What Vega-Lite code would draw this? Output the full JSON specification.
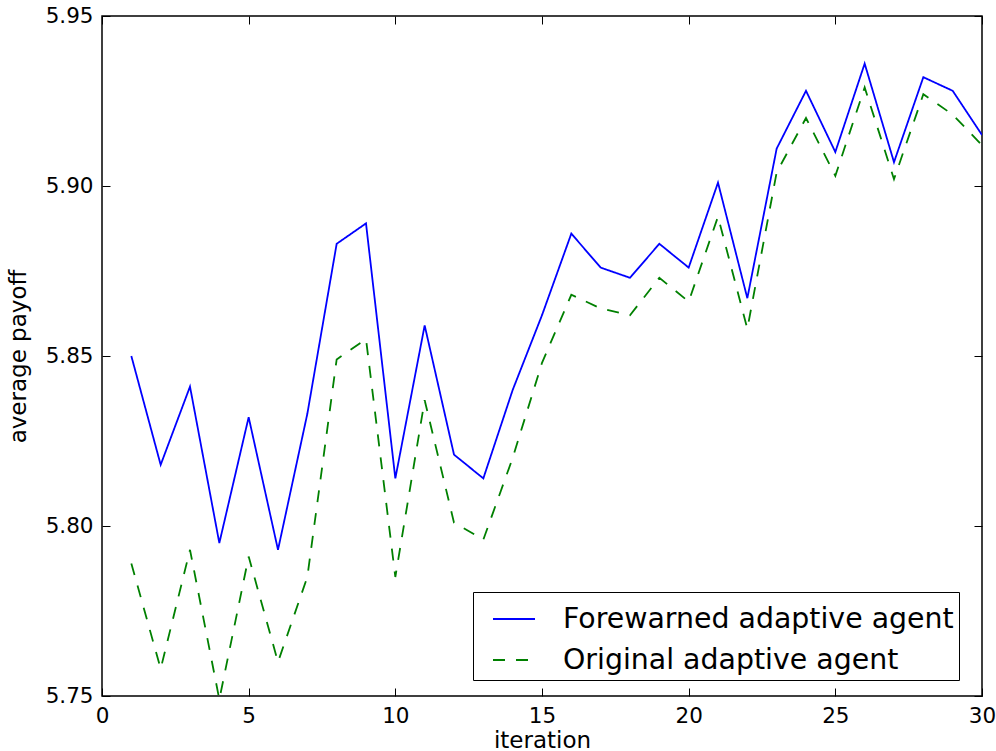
{
  "$schema": "https://vega.github.io/schema/vega-lite/v6.json",
  "width": 880,
  "height": 680,
  "autosize": {"type": "none"},
  "padding": {"left": 102, "top": 16, "right": 14, "bottom": 55},
  "background": "white",
  "config": {
    "view": {"stroke": "black", "strokeWidth": 1.5},
    "font": "DejaVu Sans",
    "legend": {"strokeColor": "black", "fillColor": "white", "cornerRadius": 0},
    "axis": {
      "grid": false,
      "domain": false,
      "tickColor": "black",
      "tickWidth": 1,
      "tickSize": -8,
      "labelFont": "DejaVu Sans",
      "labelFontSize": 21.5,
      "labelColor": "black",
      "labelPadding": 17,
      "titleFont": "DejaVu Sans",
      "titleFontSize": 23,
      "titleFontWeight": "normal",
      "titleColor": "black"
    }
  },
  "data": {
    "values": [
      {"iteration": 1, "series": "Forewarned adaptive agent", "payoff": 5.850},
      {"iteration": 2, "series": "Forewarned adaptive agent", "payoff": 5.818},
      {"iteration": 3, "series": "Forewarned adaptive agent", "payoff": 5.841},
      {"iteration": 4, "series": "Forewarned adaptive agent", "payoff": 5.795},
      {"iteration": 5, "series": "Forewarned adaptive agent", "payoff": 5.832},
      {"iteration": 6, "series": "Forewarned adaptive agent", "payoff": 5.793},
      {"iteration": 7, "series": "Forewarned adaptive agent", "payoff": 5.833},
      {"iteration": 8, "series": "Forewarned adaptive agent", "payoff": 5.883},
      {"iteration": 9, "series": "Forewarned adaptive agent", "payoff": 5.889},
      {"iteration": 10, "series": "Forewarned adaptive agent", "payoff": 5.814},
      {"iteration": 11, "series": "Forewarned adaptive agent", "payoff": 5.859},
      {"iteration": 12, "series": "Forewarned adaptive agent", "payoff": 5.821},
      {"iteration": 13, "series": "Forewarned adaptive agent", "payoff": 5.814},
      {"iteration": 14, "series": "Forewarned adaptive agent", "payoff": 5.840},
      {"iteration": 15, "series": "Forewarned adaptive agent", "payoff": 5.862},
      {"iteration": 16, "series": "Forewarned adaptive agent", "payoff": 5.886},
      {"iteration": 17, "series": "Forewarned adaptive agent", "payoff": 5.876},
      {"iteration": 18, "series": "Forewarned adaptive agent", "payoff": 5.873},
      {"iteration": 19, "series": "Forewarned adaptive agent", "payoff": 5.883},
      {"iteration": 20, "series": "Forewarned adaptive agent", "payoff": 5.876},
      {"iteration": 21, "series": "Forewarned adaptive agent", "payoff": 5.901},
      {"iteration": 22, "series": "Forewarned adaptive agent", "payoff": 5.867},
      {"iteration": 23, "series": "Forewarned adaptive agent", "payoff": 5.911},
      {"iteration": 24, "series": "Forewarned adaptive agent", "payoff": 5.928},
      {"iteration": 25, "series": "Forewarned adaptive agent", "payoff": 5.910},
      {"iteration": 26, "series": "Forewarned adaptive agent", "payoff": 5.936},
      {"iteration": 27, "series": "Forewarned adaptive agent", "payoff": 5.907},
      {"iteration": 28, "series": "Forewarned adaptive agent", "payoff": 5.932},
      {"iteration": 29, "series": "Forewarned adaptive agent", "payoff": 5.928},
      {"iteration": 30, "series": "Forewarned adaptive agent", "payoff": 5.915},
      {"iteration": 1, "series": "Original adaptive agent", "payoff": 5.789},
      {"iteration": 2, "series": "Original adaptive agent", "payoff": 5.758},
      {"iteration": 3, "series": "Original adaptive agent", "payoff": 5.793},
      {"iteration": 4, "series": "Original adaptive agent", "payoff": 5.749},
      {"iteration": 5, "series": "Original adaptive agent", "payoff": 5.791},
      {"iteration": 6, "series": "Original adaptive agent", "payoff": 5.760},
      {"iteration": 7, "series": "Original adaptive agent", "payoff": 5.785},
      {"iteration": 8, "series": "Original adaptive agent", "payoff": 5.849},
      {"iteration": 9, "series": "Original adaptive agent", "payoff": 5.855},
      {"iteration": 10, "series": "Original adaptive agent", "payoff": 5.785},
      {"iteration": 11, "series": "Original adaptive agent", "payoff": 5.837},
      {"iteration": 12, "series": "Original adaptive agent", "payoff": 5.801},
      {"iteration": 13, "series": "Original adaptive agent", "payoff": 5.796},
      {"iteration": 14, "series": "Original adaptive agent", "payoff": 5.820},
      {"iteration": 15, "series": "Original adaptive agent", "payoff": 5.848},
      {"iteration": 16, "series": "Original adaptive agent", "payoff": 5.868},
      {"iteration": 17, "series": "Original adaptive agent", "payoff": 5.864},
      {"iteration": 18, "series": "Original adaptive agent", "payoff": 5.862},
      {"iteration": 19, "series": "Original adaptive agent", "payoff": 5.873},
      {"iteration": 20, "series": "Original adaptive agent", "payoff": 5.866},
      {"iteration": 21, "series": "Original adaptive agent", "payoff": 5.891},
      {"iteration": 22, "series": "Original adaptive agent", "payoff": 5.858},
      {"iteration": 23, "series": "Original adaptive agent", "payoff": 5.904},
      {"iteration": 24, "series": "Original adaptive agent", "payoff": 5.920},
      {"iteration": 25, "series": "Original adaptive agent", "payoff": 5.903},
      {"iteration": 26, "series": "Original adaptive agent", "payoff": 5.929},
      {"iteration": 27, "series": "Original adaptive agent", "payoff": 5.902},
      {"iteration": 28, "series": "Original adaptive agent", "payoff": 5.927},
      {"iteration": 29, "series": "Original adaptive agent", "payoff": 5.921},
      {"iteration": 30, "series": "Original adaptive agent", "payoff": 5.912}
    ]
  },
  "layer": [
    {
      "transform": [{"filter": "datum.series === 'Forewarned adaptive agent'"}],
      "mark": {"type": "line", "strokeWidth": 1.8, "clip": true},
      "encoding": {
        "x": {
          "field": "iteration", "type": "quantitative",
          "scale": {"domain": [0, 30], "nice": false, "zero": false},
          "axis": {"orient": "bottom", "values": [0, 5, 10, 15, 20, 25, 30], "format": "d",
                   "title": "iteration", "titleBaseline": "alphabetic", "titleY": 51, "labelFlush": false}
        },
        "y": {
          "field": "payoff", "type": "quantitative",
          "scale": {"domain": [5.75, 5.95], "nice": false, "zero": false},
          "axis": {"orient": "left", "values": [5.75, 5.8, 5.85, 5.9, 5.95], "format": ".2f",
                   "title": "average payoff", "titleAngle": -90, "titleBaseline": "alphabetic",
                   "titleAlign": "center", "titleX": -77, "titleY": 340, "labelFlush": false}
        },
        "color": {
          "field": "series", "type": "nominal",
          "scale": {"domain": ["Forewarned adaptive agent", "Original adaptive agent"], "range": ["#0000ff", "#008000"]},
          "legend": {
            "title": null, "orient": "none", "legendX": 371, "legendY": 576,
            "symbolType": "stroke", "symbolSize": 1764, "symbolStrokeWidth": 1.8,
            "labelFont": "DejaVu Sans", "labelFontSize": 28.4, "labelColor": "black", "labelOffset": 27,
            "labelExpr": "datum.label + '\u00a0\u00a0'",
            "labelLimit": 0, "padding": 5, "rowPadding": 4, "symbolOffset": 14
          }
        },
        "strokeDash": {
          "field": "series", "type": "nominal",
          "scale": {"domain": ["Forewarned adaptive agent", "Original adaptive agent"], "range": [[1, 0], [12, 11]]},
          "legend": null
        }
      }
    },
    {
      "transform": [{"filter": "datum.series === 'Original adaptive agent'"}],
      "mark": {"type": "line", "strokeWidth": 1.8, "clip": true},
      "encoding": {
        "x": {
          "field": "iteration", "type": "quantitative",
          "axis": {"orient": "top", "values": [0, 5, 10, 15, 20, 25, 30], "labels": false, "title": null}
        },
        "y": {
          "field": "payoff", "type": "quantitative",
          "axis": {"orient": "right", "values": [5.75, 5.8, 5.85, 5.9, 5.95], "labels": false, "title": null}
        },
        "color": {"field": "series", "type": "nominal"},
        "strokeDash": {"field": "series", "type": "nominal", "legend": null}
      }
    }
  ],
  "resolve": {"axis": {"x": "independent", "y": "independent"}}
}
